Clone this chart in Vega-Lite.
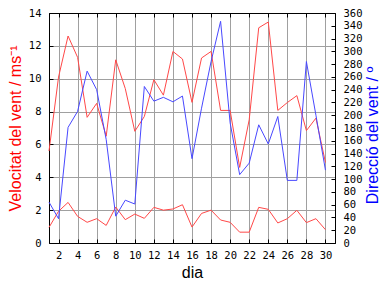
{
  "$schema": "https://vega.github.io/schema/vega-lite/v6.json",
  "width": 286,
  "height": 230,
  "autosize": {"type": "none"},
  "padding": {"left": 49, "top": 13, "right": 49, "bottom": 45},
  "background": "white",
  "view": {"stroke": "black", "strokeWidth": 1},
  "config": {
    "axis": {
      "labelFont": "DejaVu Sans Mono",
      "labelFontSize": 10.5,
      "labelColor": "black",
      "domainColor": "black",
      "tickColor": "black",
      "tickSize": -4,
      "gridColor": "#a0a0a0",
      "gridOpacity": 1,
      "titleFont": "Liberation Sans",
      "titleFontSize": 16,
      "titleFontWeight": "normal"
    }
  },
  "data": {
    "values": [
      {"dia": 1, "max": 5.6, "mitja": 0.95, "dir": 64},
      {"dia": 2, "max": 10.1, "mitja": 1.93, "dir": 38},
      {"dia": 3, "max": 12.6, "mitja": 2.47, "dir": 181},
      {"dia": 4, "max": 11.3, "mitja": 1.62, "dir": 206},
      {"dia": 5, "max": 7.65, "mitja": 1.26, "dir": 269},
      {"dia": 6, "max": 8.5, "mitja": 1.48, "dir": 240},
      {"dia": 7, "max": 6.5, "mitja": 1.07, "dir": 162},
      {"dia": 8, "max": 11.15, "mitja": 2.19, "dir": 42},
      {"dia": 9, "max": 9.4, "mitja": 1.42, "dir": 67},
      {"dia": 10, "max": 6.8, "mitja": 1.76, "dir": 61},
      {"dia": 11, "max": 7.7, "mitja": 1.5, "dir": 245},
      {"dia": 12, "max": 9.94, "mitja": 2.17, "dir": 222},
      {"dia": 13, "max": 9.0, "mitja": 2.0, "dir": 228},
      {"dia": 14, "max": 11.66, "mitja": 2.07, "dir": 221},
      {"dia": 15, "max": 11.2, "mitja": 2.33, "dir": 230},
      {"dia": 16, "max": 8.56, "mitja": 0.97, "dir": 132},
      {"dia": 17, "max": 11.26, "mitja": 1.8, "dir": 211},
      {"dia": 18, "max": 11.66, "mitja": 2.0, "dir": 284},
      {"dia": 19, "max": 8.07, "mitja": 1.4, "dir": 347},
      {"dia": 20, "max": 8.07, "mitja": 1.26, "dir": 188},
      {"dia": 21, "max": 4.6, "mitja": 0.66, "dir": 107},
      {"dia": 22, "max": 7.5, "mitja": 0.66, "dir": 125},
      {"dia": 23, "max": 13.1, "mitja": 2.17, "dir": 185},
      {"dia": 24, "max": 13.45, "mitja": 2.05, "dir": 155},
      {"dia": 25, "max": 8.07, "mitja": 1.22, "dir": 198},
      {"dia": 26, "max": 8.55, "mitja": 1.48, "dir": 98},
      {"dia": 27, "max": 8.97, "mitja": 1.99, "dir": 98},
      {"dia": 28, "max": 6.84, "mitja": 1.24, "dir": 284},
      {"dia": 29, "max": 7.6, "mitja": 1.48, "dir": 200},
      {"dia": 30, "max": 4.9, "mitja": 0.81, "dir": 114}
    ]
  },
  "layer": [
    {
      "transform": [{"fold": ["max", "mitja"], "as": ["serie", "v"]}],
      "mark": {"type": "line", "color": "#ff4848", "strokeWidth": 1},
      "encoding": {
        "x": {
          "field": "dia",
          "type": "quantitative",
          "scale": {"domain": [1, 31], "nice": false, "zero": false},
          "axis": {
            "title": "dia",
            "values": [2, 4, 6, 8, 10, 12, 14, 16, 18, 20, 22, 24, 26, 28, 30],
            "grid": true,
            "labelPadding": 11,
            "titlePadding": 4
          }
        },
        "detail": {"field": "serie", "type": "nominal"},
        "y": {
          "field": "v",
          "type": "quantitative",
          "scale": {"domain": [0, 14], "nice": false},
          "axis": {
            "title": "Velocitat del vent / ms⁻¹",
            "titleColor": "#ff0000",
            "values": [0, 2, 4, 6, 8, 10, 12, 14],
            "grid": true,
            "labelPadding": 12,
            "titlePadding": 5
          }
        }
      }
    },
    {
      "mark": {"type": "line", "color": "#4848ff", "strokeWidth": 1},
      "encoding": {
        "x": {
          "field": "dia",
          "type": "quantitative",
          "scale": {"domain": [1, 31], "nice": false, "zero": false},
          "axis": {
            "orient": "top",
            "title": null,
            "labels": false,
            "grid": false,
            "values": [2, 4, 6, 8, 10, 12, 14, 16, 18, 20, 22, 24, 26, 28, 30]
          }
        },
        "y": {
          "field": "dir",
          "type": "quantitative",
          "scale": {"domain": [0, 360], "nice": false},
          "axis": {
            "orient": "right",
            "title": "Direcció del vent / º",
            "titleColor": "#0000ff",
            "titleAngle": 270,
            "titleBaseline": "top",
            "titleY": 122,
            "values": [0, 20, 40, 60, 80, 100, 120, 140, 160, 180, 200, 220, 240, 260, 280, 300, 320, 340, 360],
            "grid": false,
            "labelPadding": 12,
            "titlePadding": 3
          }
        }
      }
    }
  ],
  "resolve": {"scale": {"y": "independent"}, "axis": {"x": "independent"}}
}
